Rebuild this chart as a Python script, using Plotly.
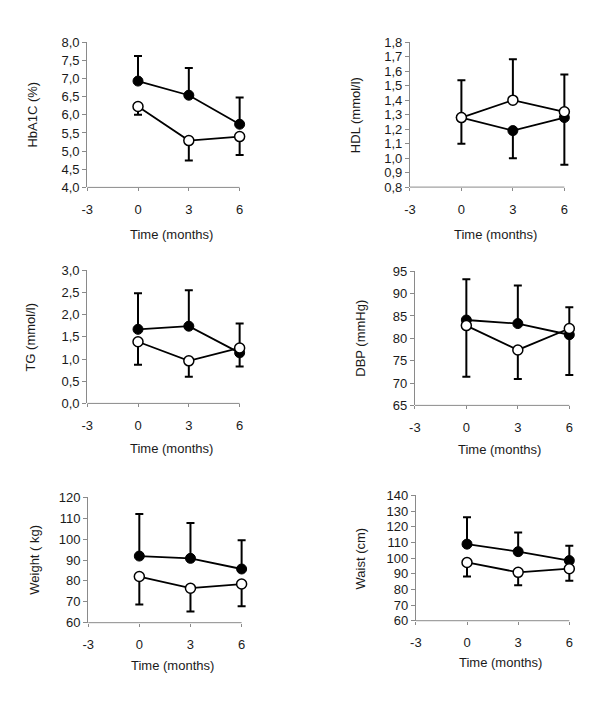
import plotly.graph_objects as go

months = [0, 3, 6]
x_ticks = [-3, 0, 3, 6]

# HbA1C (%)
hba1c_filled = [6.93, 6.54, 5.74]
hba1c_filled_err = [0.69, 0.75, 0.74]
hba1c_open = [6.23, 5.29, 5.40]
hba1c_open_err = [0.23, 0.55, 0.51]

# HDL (mmol/l)
hdl_filled = [1.28, 1.19, 1.28]
hdl_filled_err = [0.18, 0.19, 0.325]
hdl_open = [1.28, 1.40, 1.32]
hdl_open_err = [0.257, 0.283, 0.257]

# TG (mmol/l)
tg_filled = [1.67, 1.74, 1.14]
tg_filled_err = [0.81, 0.81, 0.66]
tg_open = [1.39, 0.96, 1.25]
tg_open_err = [0.52, 0.36, 0.42]

# DBP (mmHg)
dbp_filled = [84.1, 83.3, 80.8]
dbp_filled_err = [9.1, 8.5, 6.15]
dbp_open = [82.85, 77.4, 82.2]
dbp_open_err = [11.45, 6.5, 10.4]

# Weight (kg)
wt_filled = [91.9, 90.8, 85.7]
wt_filled_err = [20.2, 16.9, 13.8]
wt_open = [82.1, 76.5, 78.5]
wt_open_err = [13.4, 11.1, 10.6]

# Waist (cm)
waist_filled = [108.9, 104.1, 98.4]
waist_filled_err = [17.1, 12.3, 9.4]
waist_open = [97.2, 90.9, 93.2]
waist_open_err = [9.0, 8.3, 7.7]

panels = [
    dict(title="HbA1C (%)", filled=hba1c_filled, ferr=hba1c_filled_err, fup=True,
         open=hba1c_open, oerr=hba1c_open_err, yr=[4, 8], dt=0.5, fmt=".1f",
         px=[82, 236], py=[36, 184.3], ytx=27, xtitle=(167, 232)),
    dict(title="HDL (mmol/l)", filled=hdl_filled, ferr=hdl_filled_err, fup=False,
         open=hdl_open, oerr=hdl_open_err, yr=[0.8, 1.8], dt=0.1, fmt=".1f",
         px=[408, 564], py=[36, 184], ytx=353, xtitle=(494, 232)),
    dict(title="TG (mmol/l)", filled=tg_filled, ferr=tg_filled_err, fup=True,
         open=tg_open, oerr=tg_open_err, yr=[0, 3], dt=0.5, fmt=".1f",
         px=[82, 236], py=[269, 405], ytx=25, xtitle=(167, 451)),
    dict(title="DBP (mmHg)", filled=dbp_filled, ferr=dbp_filled_err, fup=True,
         open=dbp_open, oerr=dbp_open_err, yr=[65, 95], dt=5, fmt="d",
         px=[413, 569], py=[270, 407], ytx=358, xtitle=(498, 452)),
    dict(title="Weight ( kg)", filled=wt_filled, ferr=wt_filled_err, fup=True,
         open=wt_open, oerr=wt_open_err, yr=[60, 120], dt=10, fmt="d",
         px=[83, 238], py=[501, 629], ytx=28, xtitle=(168, 673)),
    dict(title="Waist (cm)", filled=waist_filled, ferr=waist_filled_err, fup=True,
         open=waist_open, oerr=waist_open_err, yr=[60, 140], dt=10, fmt="d",
         px=[414, 569], py=[499, 627], ytx=358, xtitle=(499, 670)),
]

W, H = 600, 708
FONT = "Liberation Sans, Arial, sans-serif"
FS = 13
AXIS_COLOR = "#8a8a8a"
TEXT_COLOR = "#1a1a1a"
XMIN, XMAX, XPAD = -3, 6, 0.5  # padding keeps the last error bar from being clipped

fig = go.Figure()
annotations = []
shapes = []
layout = {}

for i, p in enumerate(panels, start=1):
    xa = "x" if i == 1 else f"x{i}"
    ya = "y" if i == 1 else f"y{i}"
    zeros = [0, 0, 0]
    fe = dict(type="data", symmetric=False, color="black", thickness=2, width=4)
    if p["fup"]:
        fe.update(array=p["ferr"], arrayminus=zeros)
        oe_arr, oe_minus = zeros, p["oerr"]
    else:
        fe.update(array=zeros, arrayminus=p["ferr"])
        oe_arr, oe_minus = p["oerr"], zeros
    fig.add_trace(go.Scatter(
        x=months, y=p["filled"], mode="lines+markers", xaxis=xa, yaxis=ya,
        line=dict(color="black", width=1.8),
        marker=dict(size=10, color="black", line=dict(color="black", width=1)),
        error_y=fe, cliponaxis=False, showlegend=False))
    fig.add_trace(go.Scatter(
        x=months, y=p["open"], mode="lines+markers", xaxis=xa, yaxis=ya,
        line=dict(color="black", width=1.8),
        marker=dict(size=10, color="white", line=dict(color="black", width=1.5)),
        error_y=dict(type="data", symmetric=False, array=oe_arr, arrayminus=oe_minus,
                     color="black", thickness=2, width=4),
        cliponaxis=False, showlegend=False))

    # plot width in px spans XMIN..XMAX; extend domain by the pad
    span_px = p["px"][1] - p["px"][0]
    pad_px = span_px * XPAD / (XMAX - XMIN)
    xkey = "xaxis" if i == 1 else f"xaxis{i}"
    ykey = "yaxis" if i == 1 else f"yaxis{i}"
    layout[xkey] = dict(
        domain=[p["px"][0] / W, (p["px"][1] + pad_px) / W], anchor=ya,
        range=[XMIN, XMAX + XPAD],
        tickvals=x_ticks, ticktext=[str(v) for v in x_ticks],
        showline=False, showgrid=False,
        zeroline=False, ticks="outside", ticklen=3, tickcolor=AXIS_COLOR,
        ticklabelstandoff=7, tickfont=dict(size=FS, color=TEXT_COLOR, family=FONT))
    layout[ykey] = dict(
        domain=[1 - p["py"][1] / H, 1 - p["py"][0] / H], anchor=xa, range=p["yr"],
        dtick=p["dt"], tick0=p["yr"][0], tickformat=p["fmt"],
        showline=True, linecolor=AXIS_COLOR, linewidth=1, showgrid=False,
        zeroline=False, ticks="outside", ticklen=4, tickcolor=AXIS_COLOR,
        tickfont=dict(size=FS, color=TEXT_COLOR, family=FONT))
    # x axis line from -3 to 6 only
    shapes.append(dict(type="line", xref=xa, yref=f"{ya} domain",
                       x0=XMIN, x1=XMAX, y0=0, y1=0, layer="below",
                       line=dict(color=AXIS_COLOR, width=1)))
    annotations.append(dict(
        text=p["title"], textangle=-90, x=p["ytx"] / W,
        y=1 - (p["py"][0] + p["py"][1]) / 2 / H, xref="paper", yref="paper",
        xanchor="center", yanchor="middle", showarrow=False,
        font=dict(size=FS, color=TEXT_COLOR, family=FONT)))
    annotations.append(dict(
        text="Time (months)", x=p["xtitle"][0] / W, y=1 - p["xtitle"][1] / H,
        xref="paper", yref="paper", xanchor="center", yanchor="middle",
        showarrow=False, font=dict(size=FS, color=TEXT_COLOR, family=FONT)))

fig.update_layout(
    width=W, height=H, margin=dict(l=0, r=0, t=0, b=0),
    paper_bgcolor="white", plot_bgcolor="white", separators=",.",
    annotations=annotations, shapes=shapes, font=dict(family=FONT), **layout)

fig.write_html("out.html", config={"displayModeBar": False},
               post_script="document.body.style.margin='0px';")
